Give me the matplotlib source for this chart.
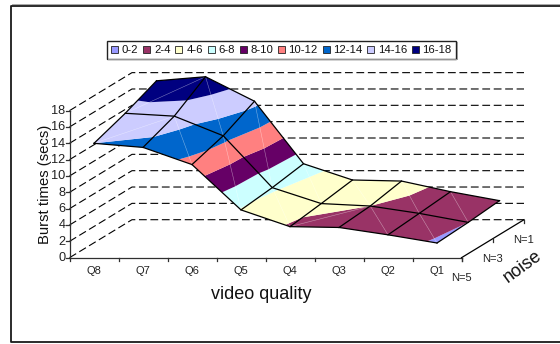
import numpy as np
import matplotlib
matplotlib.use('Agg')
import matplotlib.pyplot as plt
import matplotlib.tri as mtri
from matplotlib.patches import Rectangle, Polygon

plt.rcParams['font.family'] = ['Liberation Sans', 'DejaVu Sans']

# Burst times per video quality, one row per noise level
qualities = ['Q8', 'Q7', 'Q6', 'Q5', 'Q4', 'Q3', 'Q2', 'Q1']
noise_levels = ['N=5', 'N=3', 'N=1']
burst_n5 = [14.0, 13.5, 11.4, 5.85, 3.8, 3.7, 2.8, 1.8]
burst_n3 = [15.35, 15.0, 12.6, 6.25, 4.3, 4.0, 3.1, 2.0]
burst_n1 = [17.0, 17.5, 14.5, 6.85, 4.86, 4.73, 3.43, 2.33]
z_ticks = [0, 2, 4, 6, 8, 10, 12, 14, 16, 18]
band_labels = ['0-2', '2-4', '4-6', '6-8', '8-10', '10-12', '12-14', '14-16', '16-18']
band_colors = ['#9999FF', '#993366', '#FFFFCC', '#CCFFFF', '#660066',
               '#FF8080', '#0066CC', '#CCCCFF', '#000080']

# oblique projection of the chart box onto the page, in pixels
X0, Y0 = 69.5, 257.7
CAT_W = 49.0
DEPTH_X, DEPTH_Y = 62.5, -38.0
Z_SCALE = 8.17
AXIS_COL = '#303030'


def project(i, d, z):
    # i: category position from the left, d: depth 0..1, z: seconds
    return X0 + CAT_W * i + DEPTH_X * d, Y0 + DEPTH_Y * d - Z_SCALE * z


fig = plt.figure(figsize=(5.6, 3.44), dpi=100)
ax = fig.add_axes([0, 0, 1, 1])
ax.set_xlim(0, 560)
ax.set_ylim(344, 0)
ax.axis('off')

# outer chart frame, with a soft shadow on the inside edge
ax.plot([560, 11, 11, 560], [5.5, 5.5, 341.5, 341.5], color='#1a1a1a', lw=1.3, zorder=1)
ax.plot([560, 11.8], [4.4, 4.4], color='#999999', lw=0.6, zorder=1)

# dashed wall gridlines running from the front axis to the back wall
n_cat = len(qualities)
for z in z_ticks:
    x_a, y_a = project(0, 0, z)
    x_b, y_b = project(0, 1, z)
    x_c, y_c = project(n_cat, 1, z)
    ax.plot([x_a, x_b, x_c], [y_a, y_b, y_c], color='black', lw=0.8,
            dashes=(7, 3.3), zorder=2)

# value axis
x_a, y_top = project(0, 0, z_ticks[-1])
ax.plot([X0, X0], [Y0, y_top], color=AXIS_COL, lw=0.9, zorder=3)
for z in z_ticks:
    x_t, y_t = project(0, 0, z)
    ax.plot([x_t - 3.5, x_t], [y_t, y_t], color=AXIS_COL, lw=0.9, zorder=3)
    ax.text(x_t - 4, y_t + 0.3, str(z), ha='right', va='center', fontsize=9.2, color='#222222')

# category axis along the front of the floor
ax.plot([X0, X0 + CAT_W * n_cat], [Y0, Y0], color=AXIS_COL, lw=0.9, zorder=3)
for i in range(n_cat + 1):
    x_t = X0 + CAT_W * i
    ax.plot([x_t, x_t], [Y0, Y0 + 3], color=AXIS_COL, lw=0.9, zorder=3)
for i, q in enumerate(qualities):
    ax.text(X0 + CAT_W * (i + 0.5), 271, q, ha='center', va='center', fontsize=8, color='#222222')

# depth axis on the right of the floor
x_f, y_f = project(n_cat, 0, 0)
x_k, y_k = project(n_cat, 1, 0)
ax.plot([x_f, x_k], [y_f, y_k], color='black', lw=0.9, zorder=3)
for j, lab in enumerate(noise_levels):
    x_t, y_t = project(n_cat, j / 2, 0)
    ax.plot([x_t, x_t], [y_t, y_t + 3], color=AXIS_COL, lw=0.9, zorder=3)
    ax.text(x_t, y_t + 20, lab, ha='center', va='center', fontsize=8, color='#222222')

# surface grid and triangulation in page coordinates
rows = [burst_n5, burst_n3, burst_n1]
depths = [0.0, 0.5, 1.0]
px, py, pz = [], [], []
for d, row in zip(depths, rows):
    for i, v in enumerate(row):
        x, y = project(i + 0.5, d, v)
        px.append(x)
        py.append(y)
        pz.append(v)
px, py, pz = np.array(px), np.array(py), np.array(pz)


def vid(r, c):
    return r * n_cat + c


tris = []
for r in range(len(rows) - 1):
    for c in range(n_cat - 1):
        # the left column and the Q4-Q3 front cell split the other way
        if c < 1 or (c == 4 and r == 0):
            tris.append([vid(r, c), vid(r, c + 1), vid(r + 1, c + 1)])
            tris.append([vid(r, c), vid(r + 1, c + 1), vid(r + 1, c)])
        else:
            tris.append([vid(r, c), vid(r, c + 1), vid(r + 1, c)])
            tris.append([vid(r, c + 1), vid(r + 1, c + 1), vid(r + 1, c)])
tri = mtri.Triangulation(px, py, tris)

# white underlay hides the wall gridlines behind the surface
outline = [vid(0, c) for c in range(n_cat)] + [vid(2, c) for c in range(n_cat - 1, -1, -1)]
outline.insert(n_cat, vid(1, n_cat - 1))
outline.append(vid(1, 0))
ax.add_patch(Polygon(np.c_[px[outline], py[outline]], closed=True, fc='white', ec='none', zorder=4))
ax.tricontourf(tri, pz, levels=np.arange(0, 20, 2), colors=band_colors, zorder=5, antialiased=True)

# faint cell diagonals seen through the surface
for a, b, c_ in tris:
    for u, v in ((a, b), (b, c_), (c_, a)):
        same_row = abs(u - v) == 1
        same_col = abs(u - v) == n_cat
        if not same_row and not same_col:
            ax.plot(px[[u, v]], py[[u, v]], color='white', lw=0.4, alpha=0.25, zorder=6)

# black mesh and outline on top of the bands
for r in range(len(rows)):
    ax.plot(px[[vid(r, c) for c in range(n_cat)]], py[[vid(r, c) for c in range(n_cat)]],
            color='black', lw=0.9, zorder=7)
for c in range(n_cat):
    ax.plot(px[[vid(r, c) for r in range(3)]], py[[vid(r, c) for r in range(3)]],
            color='black', lw=0.9, zorder=7)

ax.text(45.5, 184, 'Burst times (secs)', rotation=90, ha='center', va='center', fontsize=10.7, color='#111111')
ax.text(261, 294.5, 'video quality', ha='center', va='center', fontsize=13, color='#111111')
ax.text(523, 267, 'noise', rotation=36, ha='center', va='center', fontsize=13, color='#111111')

# legend box drawn by hand so each entry sits at its own spacing
leg_x = [114, 146.5, 178.7, 211, 243, 281, 326, 370.7, 415]
ax.add_patch(Rectangle((107, 41), 349, 17.5, fc='white', ec='#222222', lw=1.0, zorder=8))
ax.plot([108, 456.5, 456.5], [59, 59, 42], color='#999999', lw=0.7, zorder=8)
for lx, lab, col in zip(leg_x, band_labels, band_colors):
    ax.add_patch(Rectangle((lx - 3.5, 46), 7, 7, fc=col, ec='#222222', lw=0.6, zorder=9))
    ax.text(lx + 7.5, 50.2, lab, ha='left', va='center', fontsize=8.2, color='#111111', zorder=9)

fig.savefig('out.png', dpi=100)
